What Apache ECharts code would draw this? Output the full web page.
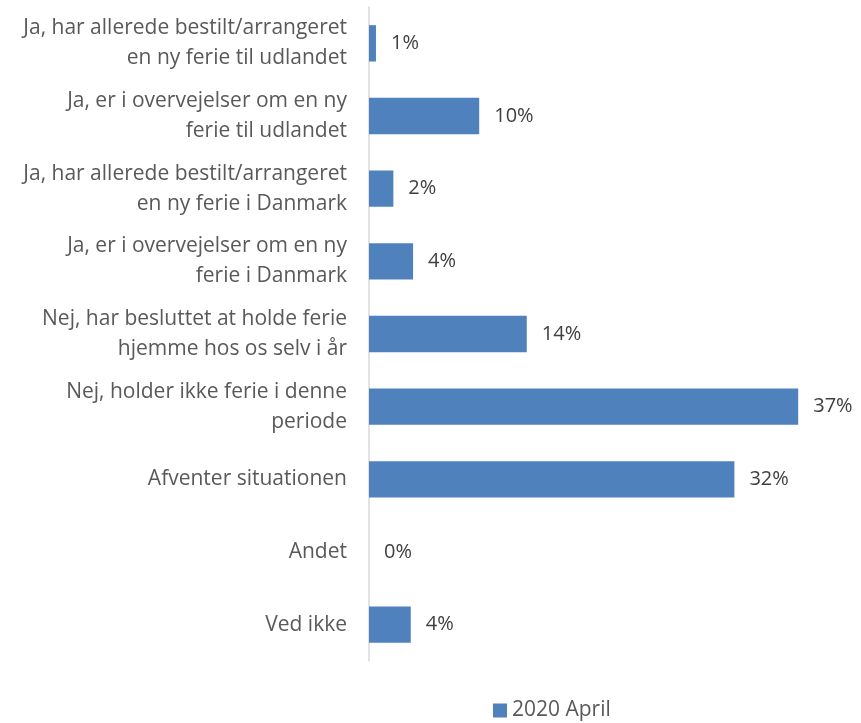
<!DOCTYPE html>
<html>
<head>
<meta charset="utf-8">
<script src="https://cdn.jsdelivr.net/npm/echarts@6/dist/echarts.min.js"></script>
<style>html,body{margin:0;padding:0;background:#fff;}#c{width:861px;height:723px;}</style>
</head>
<body>
<div id="c"></div>
<script>
const categories = [
  "Ja, har allerede bestilt/arrangeret\nen ny ferie til udlandet",
  "Ja, er i overvejelser om en ny\nferie til udlandet",
  "Ja, har allerede bestilt/arrangeret\nen ny ferie i Danmark",
  "Ja, er i overvejelser om en ny\nferie i Danmark",
  "Nej, har besluttet at holde ferie\nhjemme hos os selv i år",
  "Nej, holder ikke ferie i denne\nperiode",
  "Afventer situationen",
  "Andet",
  "Ved ikke"
];
const values2020April = [0.6, 9.5, 2.1, 3.8, 13.6, 37.0, 31.5, 0, 3.6];
const seriesName = "2020 April";

const chart = echarts.init(document.getElementById('c'));
const FONT = "'Open Sans', 'Liberation Sans', sans-serif";
chart.setOption({
  animation: false,
  grid: { left: 369, right: 28, top: 7, bottom: 62, containLabel: false },
  xAxis: {
    type: 'value', min: 0, max: 40,
    show: false
  },
  yAxis: {
    type: 'category',
    data: categories,
    inverse: true,
    axisLine: { show: true, lineStyle: { color: '#d9d9d9', width: 1.5 } },
    axisTick: { show: false },
    axisLabel: {
      color: '#595959', fontSize: 21, fontFamily: FONT, lineHeight: 30,
      align: 'right', margin: 22
    }
  },
  legend: {
    data: [seriesName],
    top: 695, left: 488,
    itemWidth: 14, itemHeight: 14, itemGap: 6,
    textStyle: { color: '#595959', fontSize: 21, fontFamily: FONT },
    icon: 'rect'
  },
  series: [{
    name: seriesName,
    type: 'bar',
    data: values2020April,
    barWidth: '50%',
    itemStyle: { color: '#4f81bd' },
    label: {
      show: true, position: 'right', distance: 15,
      color: '#404040', fontSize: 20, fontFamily: FONT,
      formatter: p => Math.round(p.value) + '%'
    }
  }]
});
</script>
</body>
</html>
